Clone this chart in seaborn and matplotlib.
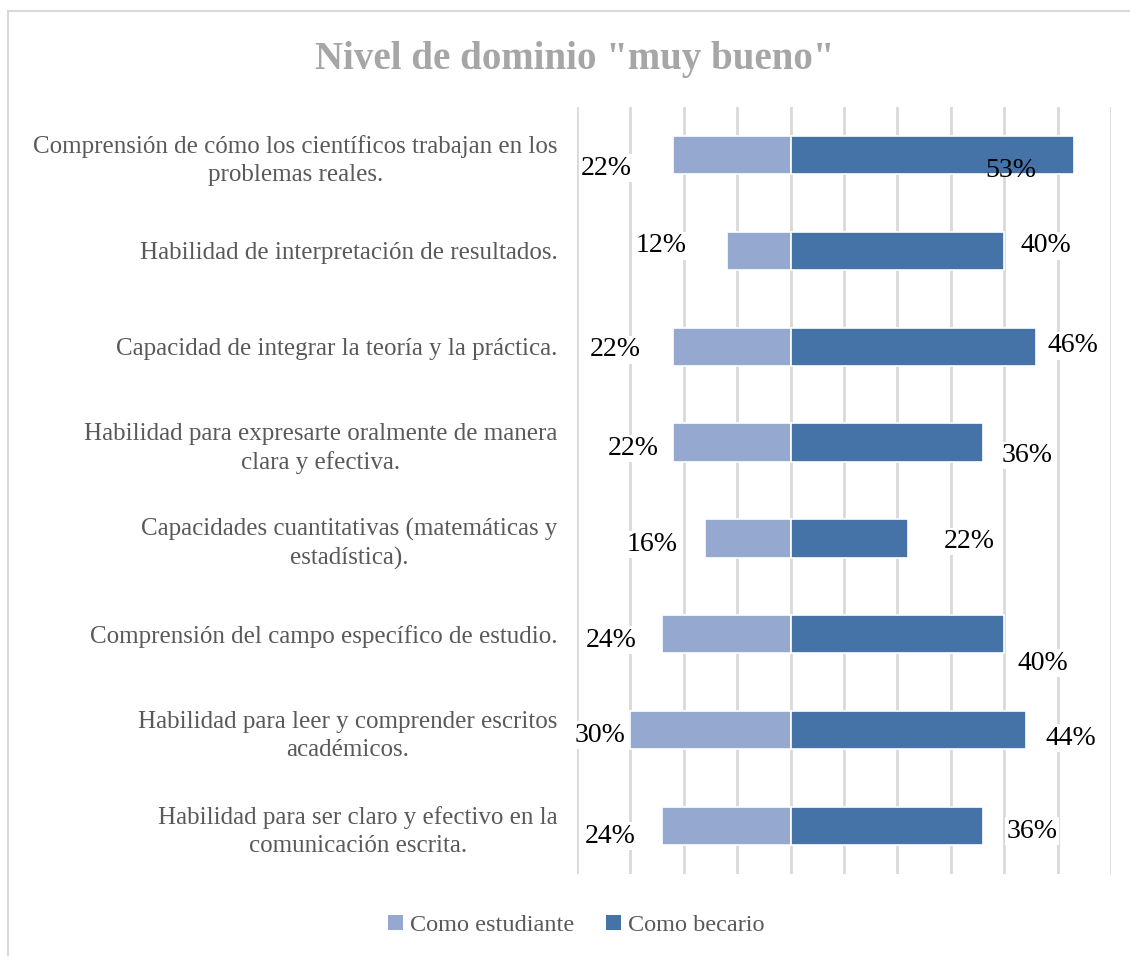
import seaborn as sns
import matplotlib.pyplot as plt
import pandas as pd
import numpy as np
from matplotlib.patches import Rectangle, Patch

sns.set_theme(style="white")
plt.rcParams['font.family'] = ['Liberation Serif', 'DejaVu Serif']

# datos
categorias = [
    "Comprensión de cómo los científicos trabajan en los\nproblemas reales.",
    "Habilidad de interpretación de resultados.",
    "Capacidad de integrar la teoría y la práctica.",
    "Habilidad para expresarte oralmente de manera\nclara y efectiva.",
    "Capacidades cuantitativas (matemáticas y\nestadística).",
    "Comprensión del campo específico de estudio.",
    "Habilidad para leer y comprender escritos\nacadémicos.",
    "Habilidad para ser claro y efectivo en la\ncomunicación escrita.",
]
estudiante = [22, 12, 22, 22, 16, 24, 30, 24]
becario = [53, 40, 46, 36, 22, 40, 44, 36]
series = ["Como estudiante", "Como becario"]
colores = ["#95A9D0", "#4673A7"]

# desplazamiento de las etiquetas (pixeles) como en el original
off_izq = [(-67, -13), (-65, 5), (-58, -3), (-40, -6), (-53, -6), (-51, -6), (-30, -5), (-52, -10)]
off_der = [(-63, -15), (42, 5), (37, 1), (44, -13), (61, -3), (39, -29), (45, -8), (49, -5)]

df = pd.DataFrame({
    "categoria": categorias * 2,
    "valor": [-v for v in estudiante] + becario,
    "serie": [series[0]] * len(categorias) + [series[1]] * len(categorias),
})

fig = plt.figure(figsize=(11.3, 9.56), dpi=100)
ax = fig.add_axes([0.5106, 0.0858, 0.9832 - 0.5106, 0.888 - 0.0858])

sns.barplot(data=df, x="valor", y="categoria", hue="serie", dodge=False,
            palette=colores, saturation=1, width=0.4, orient="h", ax=ax, legend=False,
            edgecolor="white", linewidth=1.2, zorder=3)

ax.set_xlim(-40, 60)
ax.set_xticks(np.arange(-40, 61, 10))
ax.xaxis.grid(True, color="#d9d9d9", linewidth=2, zorder=0)
ax.set_axisbelow(True)
ax.tick_params(axis="x", length=0, labelbottom=False)
ax.tick_params(axis="y", length=0, pad=14, labelsize=18, labelcolor="#595959")
for t in ax.get_yticklabels():
    t.set_multialignment("center")
    t.set_linespacing(1.35)
ax.set_xlabel("")
ax.set_ylabel("")
for s in ax.spines.values():
    s.set_visible(False)

# etiquetas de datos
caja = dict(boxstyle="square,pad=0.05", fc="white", ec="none")
for i in range(len(categorias)):
    ax.annotate(f"{estudiante[i]}%", (-estudiante[i], i), xytext=off_izq[i],
                textcoords="offset pixels", ha="center", va="center", fontsize=20,
                color="black", zorder=5, bbox=caja)
    ax.annotate(f"{becario[i]}%", (becario[i], i), xytext=off_der[i],
                textcoords="offset pixels", ha="center", va="center", fontsize=20,
                color="black", zorder=5, bbox=None if i == 0 else caja)

fig.text(0.509, 0.938, 'Nivel de dominio "muy bueno"', ha="center", va="center",
         fontsize=28, fontweight="bold", color="#a6a6a6")

handles = [Patch(facecolor=c, edgecolor="none") for c in colores]
fig.legend(handles, series, loc="center", bbox_to_anchor=(0.51, 0.032), ncol=2,
           frameon=False, fontsize=17.5, labelcolor="#595959", handlelength=0.6,
           handleheight=0.6, handletextpad=0.3, columnspacing=1.3)

fig.patches.append(Rectangle((0.0075, -0.2), 1.2, 0.2 + 0.9885, transform=fig.transFigure,
                             fill=False, edgecolor="#d9d9d9", linewidth=1.5))

plt.savefig("out.png", dpi=100)
